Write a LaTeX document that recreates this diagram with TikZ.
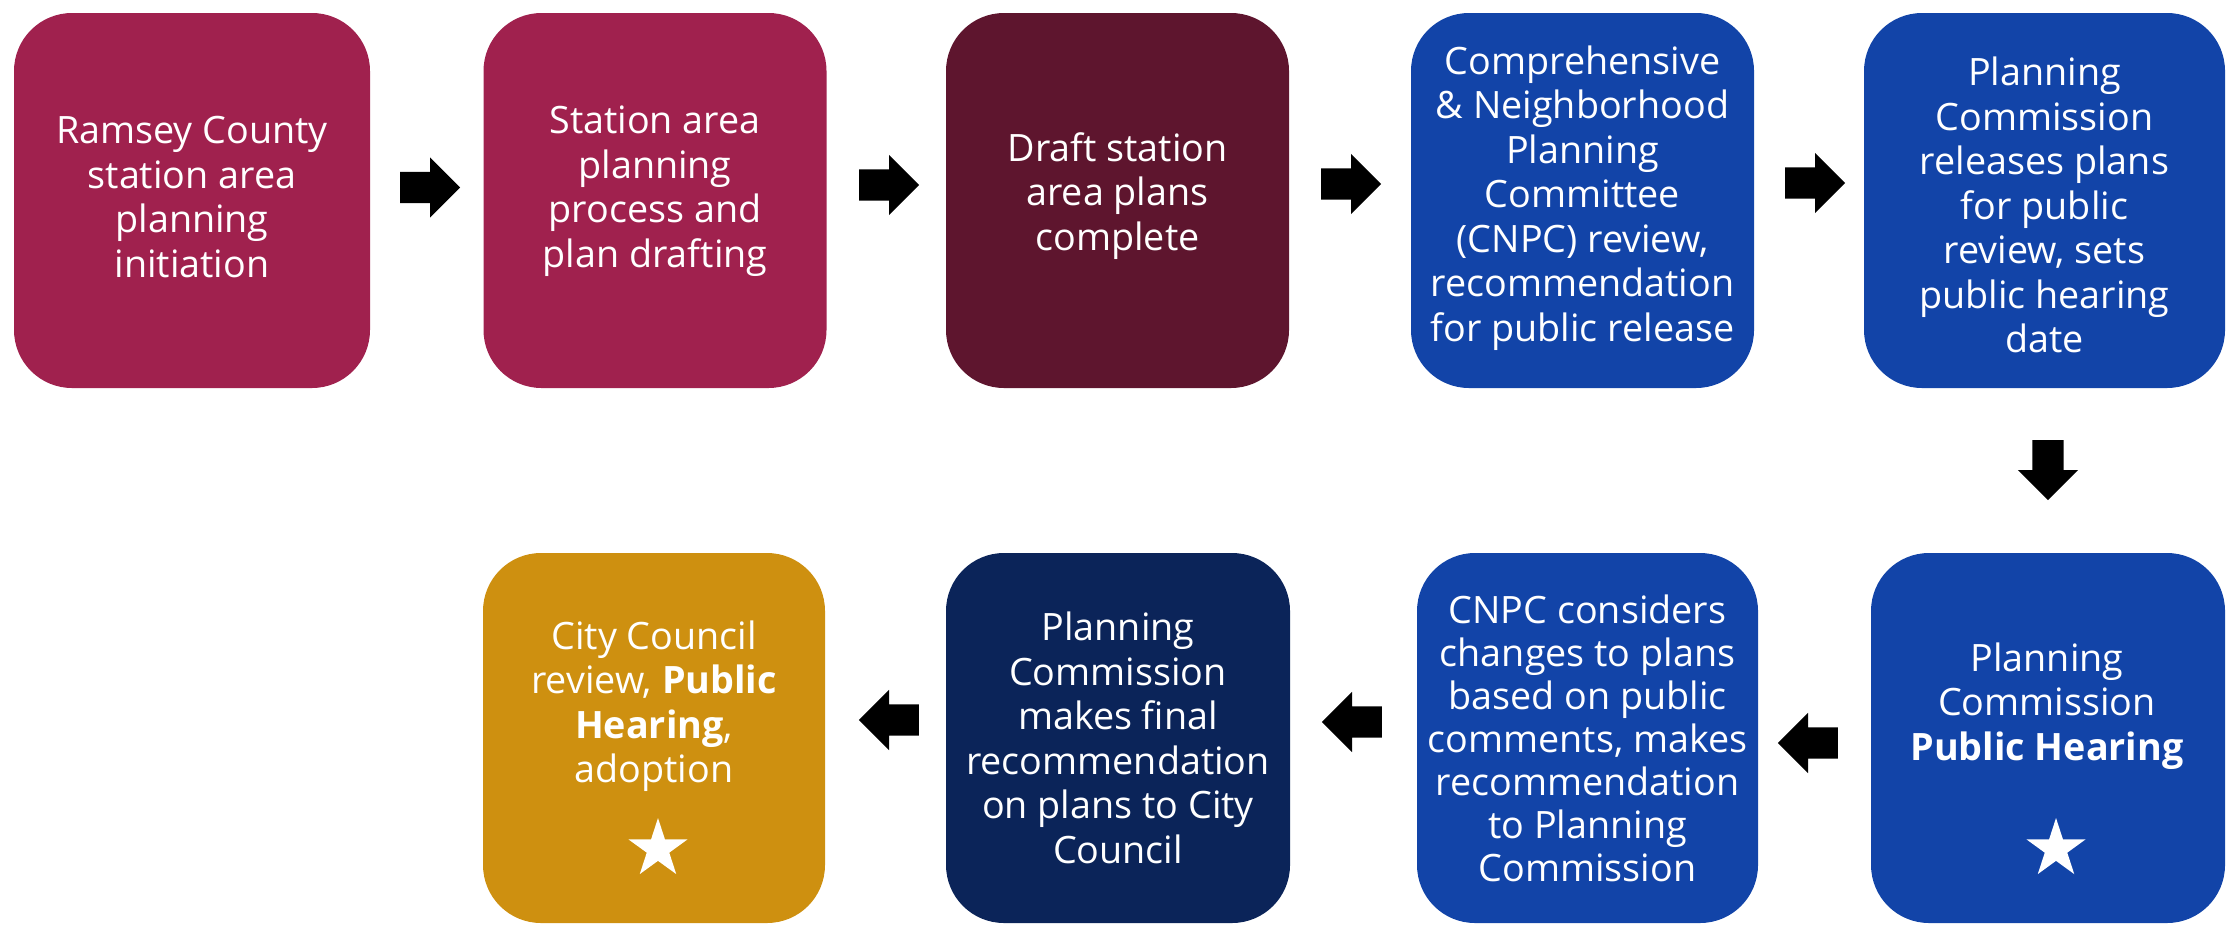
\documentclass[tikz,border=0pt]{standalone}
\usepackage{fontspec}
\setmainfont{Open Sans}
\usetikzlibrary{shapes.arrows,shapes.geometric}
\definecolor{crimson}{HTML}{A0214E}
\definecolor{maroon}{HTML}{5E152E}
\definecolor{stepblue}{HTML}{1244A8}
\definecolor{navy}{HTML}{0B2459}
\definecolor{gold}{HTML}{CE9010}
\begin{document}
\begin{tikzpicture}[x=1pt,y=-1pt,
  stepbox/.style={rounded corners=58pt, minimum width=343pt, minimum height=375pt, inner sep=0pt, text=white, align=center, font=\fontsize{37.7}{44.5}\selectfont},
  steptext/.style={inner sep=0pt, text=white, align=center, font=\fontsize{37.7}{44.5}\selectfont},
  blockarrow/.style={single arrow, fill=black, inner xsep=0pt, inner ysep=15.5pt, minimum height=60pt, single arrow head extend=14.5pt, single arrow head indent=0pt, anchor=tail},
  starmark/.style={star, star points=5, star point ratio=2.618, fill=white, minimum size=62pt, inner sep=0pt}]
\useasboundingbox (0,0) rectangle (2226,924);
% top row
\node[stepbox, fill=crimson, minimum width=356pt] (b1) at (192,200.5) {};
\node[steptext] (t1) at (192,197) {Ramsey County\\station area\\planning\\initiation};
\node[stepbox, fill=crimson] (b2) at (655,200.5) {};
\node[steptext] (t2) at (655,191) {Station area\\planning\\process and\\plan drafting};
\node[stepbox, fill=maroon] (b3) at (1117.5,200.5) {};
\node[steptext] (t3) at (1117.5,196) {Draft station\\area plans\\complete};
\node[stepbox, fill=stepblue] (b4) at (1582.5,200.5) {};
\node[steptext] (t4) at (1582.5,198) {Comprehensive\\\& Neighborhood\\Planning\\Committee\\(CNPC) review,\\recommendation\\for public release};
\node[stepbox, fill=stepblue, minimum width=361pt] (b5) at (2044.5,200.5) {};
\node[steptext] (t5) at (2044.5,205) {Planning\\Commission\\releases plans\\for public\\review, sets\\public hearing\\date};
% bottom row
\node[stepbox, fill=stepblue, minimum width=354pt, minimum height=370pt] (b6) at (2048,738) {};
\node[steptext] (t6) at (2047,706) {Planning\\Commission\\\textbf{Public Hearing}};
\node[starmark] (s6) at (2056,849) {};
\node[stepbox, fill=stepblue, minimum width=341pt, minimum height=370pt, font=\fontsize{37.7}{43}\selectfont] (b7) at (1587.5,738) {CNPC considers\\changes to plans\\based on public\\comments, makes\\recommendation\\to Planning\\Commission};
\node[stepbox, fill=navy, minimum width=344pt, minimum height=370pt] (b8) at (1118,738) {Planning\\Commission\\makes final\\recommendation\\on plans to City\\Council};
\node[stepbox, fill=gold, minimum width=342pt, minimum height=370pt] (b9) at (654,738) {};
\node[steptext] (t9) at (654,706) {City Council\\review, \textbf{Public}\\\textbf{Hearing},\\adoption};
\node[starmark] (s9) at (658,849) {};
% arrows
\node[blockarrow] (a1) at (400,187.5) {};
\node[blockarrow] (a2) at (859,185) {};
\node[blockarrow] (a3) at (1321,184) {};
\node[blockarrow] (a4) at (1785,183) {};
\node[blockarrow, rotate=-90] (a5) at (2048,440) {};
\node[blockarrow, shape border rotate=180] (a6) at (1838,743) {};
\node[blockarrow, shape border rotate=180] (a7) at (1382,722) {};
\node[blockarrow, shape border rotate=180] (a8) at (919,720) {};
\end{tikzpicture}
\end{document}
